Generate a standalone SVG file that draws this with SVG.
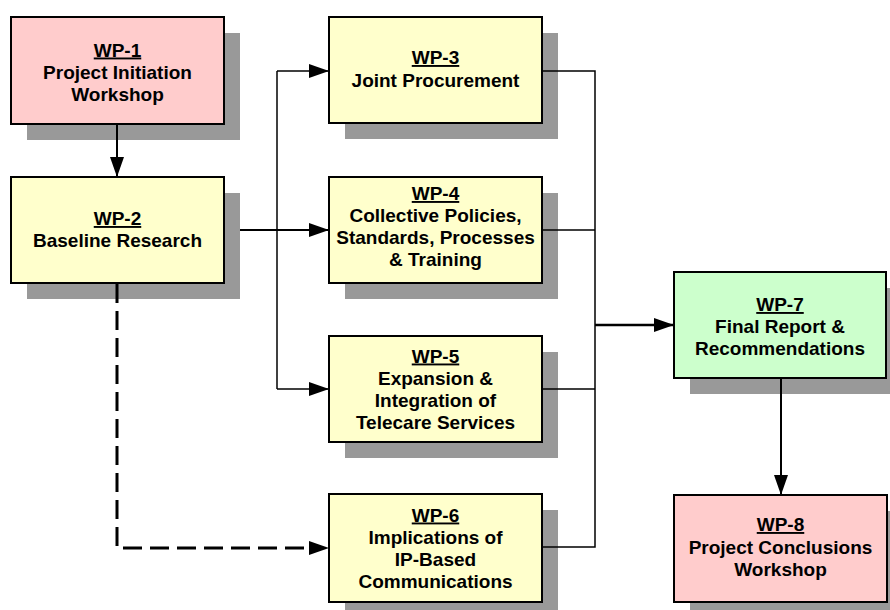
<svg xmlns="http://www.w3.org/2000/svg" width="890" height="610" viewBox="0 0 890 610">
<style>
.sh{fill:#999999;}
.box{stroke:#000;stroke-width:2;}
.pink{fill:#FFCCCC;}
.yel{fill:#FFFFCC;}
.grn{fill:#CCFFCC;}
text{font-family:"Liberation Sans",Arial,sans-serif;font-weight:bold;font-size:19px;fill:#000;text-anchor:middle;}
.u{text-decoration:underline;}
.c{fill:none;stroke:#000;}
.t{stroke-width:1.5;}
.m{stroke-width:2;}
.k{stroke-width:2.5;}
.d{stroke-width:3;stroke-dasharray:19 8;}
</style>
<defs>
<marker id="ah" markerUnits="userSpaceOnUse" markerWidth="20" markerHeight="14" refX="20" refY="7" orient="auto">
<path d="M0,0 L20,7 L0,14 Z" fill="#000"/>
</marker>
</defs>
<g id="wp1">
<rect class="sh" x="27" y="33" width="213" height="107"/>
<rect class="box pink" x="11" y="17" width="213" height="107"/>
<text x="117.5" y="56.5" class="u">WP-1</text>
<text x="117.5" y="78.5">Project Initiation</text>
<text x="117.5" y="100.5">Workshop</text>
</g>
<g id="wp2">
<rect class="sh" x="27" y="193" width="213" height="106"/>
<rect class="box yel" x="11" y="177" width="213" height="106"/>
<text x="117.5" y="225" class="u">WP-2</text>
<text x="117.5" y="247">Baseline Research</text>
</g>
<g id="wp3">
<rect class="sh" x="345" y="33" width="213" height="106"/>
<rect class="box yel" x="329" y="17" width="213" height="106"/>
<text x="435.5" y="64" class="u">WP-3</text>
<text x="435.5" y="86.5">Joint Procurement</text>
</g>
<g id="wp4">
<rect class="sh" x="345" y="193" width="213" height="106"/>
<rect class="box yel" x="329" y="177" width="213" height="106"/>
<text x="435.5" y="200" class="u">WP-4</text>
<text x="435.5" y="222">Collective Policies,</text>
<text x="435.5" y="244">Standards, Processes</text>
<text x="435.5" y="266">&amp; Training</text>
</g>
<g id="wp5">
<rect class="sh" x="345" y="352" width="213" height="106"/>
<rect class="box yel" x="329" y="336" width="213" height="106"/>
<text x="435.5" y="362.5" class="u">WP-5</text>
<text x="435.5" y="384.5">Expansion &amp;</text>
<text x="435.5" y="406.5">Integration of</text>
<text x="435.5" y="428.5">Telecare Services</text>
</g>
<g id="wp6">
<rect class="sh" x="345" y="510" width="213" height="108"/>
<rect class="box yel" x="329" y="494" width="213" height="108"/>
<text x="435.5" y="521.5" class="u">WP-6</text>
<text x="435.5" y="543.5">Implications of</text>
<text x="435.5" y="565.5">IP-Based</text>
<text x="435.5" y="587.5">Communications</text>
</g>
<g id="wp7">
<rect class="sh" x="690" y="288" width="212" height="106"/>
<rect class="box grn" x="674" y="272" width="212" height="106"/>
<text x="780" y="311" class="u">WP-7</text>
<text x="780" y="333">Final Report &amp;</text>
<text x="780" y="355">Recommendations</text>
</g>
<g id="wp8">
<rect class="sh" x="690" y="511" width="213" height="107"/>
<rect class="box pink" x="674" y="495" width="213" height="107"/>
<text x="780.5" y="531" class="u">WP-8</text>
<text x="780.5" y="554">Project Conclusions</text>
<text x="780.5" y="576">Workshop</text>
</g>
<g id="connectors">
<path class="c m" d="M117,125 V177" marker-end="url(#ah)"/>
<path class="c m" d="M240,230 H329" marker-end="url(#ah)"/>
<path class="c t" d="M277,389 V71"/>
<path class="c t" d="M277,71 H329" marker-end="url(#ah)"/>
<path class="c t" d="M277,389 H329" marker-end="url(#ah)"/>
<path class="c t" d="M543,71 H595 V547 H543"/>
<path class="c t" d="M543,230 H595"/>
<path class="c t" d="M543,389 H595"/>
<path class="c k" d="M595,325 H674" marker-end="url(#ah)"/>
<path class="c m" d="M781,379 V495" marker-end="url(#ah)"/>
<path class="c d" d="M117,284 V548 H311"/>
<path d="M309,541 L329,548 L309,555 Z" fill="#000"/>
</g>
</svg>
